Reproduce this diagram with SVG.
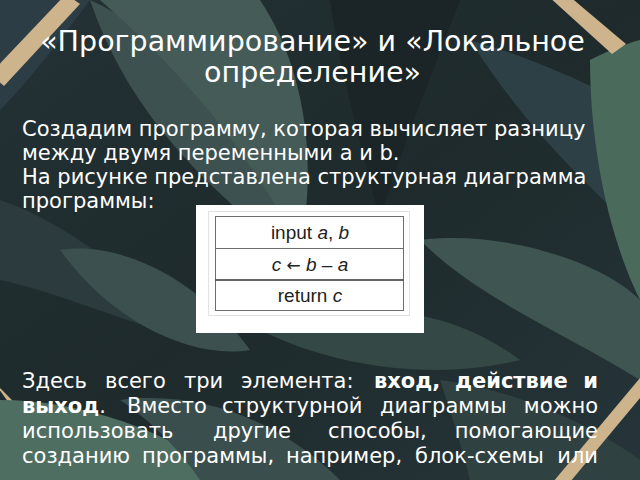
<svg xmlns="http://www.w3.org/2000/svg" width="640" height="480" viewBox="0 0 640 480">
<defs>
<style>
.t{font-family:"DejaVu Sans","Noto Sans",sans-serif;fill:#ffffff}
.title{font-size:28.5px}
.body{font-size:21px}
.b{font-weight:bold}
.tbl{font-family:"Liberation Sans",Arial,sans-serif;font-size:19px;fill:#222}
.i{font-style:italic}
.arr{font-family:"DejaVu Sans",sans-serif;font-size:17px}
.stick{fill:#cdb48c}
</style>
<linearGradient id="bg" x1="0" y1="0" x2="1" y2="1">
<stop offset="0" stop-color="#243236"/>
<stop offset="0.5" stop-color="#1e2a2b"/>
<stop offset="1" stop-color="#26353a"/>
</linearGradient>
</defs>
<g id="background">
<rect x="0" y="0" width="640" height="480" fill="url(#bg)"/>
<path d="M90 0 C180 40 260 140 300 260 C220 200 130 120 90 0 Z" fill="#3c5150"/>
<path d="M100 0 L260 0 C300 60 320 150 300 250 C250 150 180 70 100 0 Z" fill="#455b58"/>
<path d="M0 0 L90 0 C60 40 30 80 0 110 Z" fill="#2c3d45"/>
<path d="M330 0 L460 0 C430 80 400 150 380 220 C360 140 340 70 330 0 Z" fill="#1b2426"/>
<path d="M470 40 C540 60 600 90 640 110 L640 240 C600 190 540 150 470 40 Z" fill="#2d4046"/>
<path d="M590 60 C620 45 640 40 640 40 L640 300 C610 240 590 150 590 60 Z" fill="#4a6a5c"/>
<path d="M0 200 C60 220 130 270 190 340 C120 320 50 290 0 280 Z" fill="#2c3b3e"/>
<path d="M60 250 C120 240 200 280 250 350 C190 360 110 320 60 250 Z" fill="#3b504f"/>
<path d="M260 330 C340 300 440 300 520 360 C440 380 340 370 260 330 Z" fill="#344846"/>
<path d="M420 240 C500 230 600 260 640 300 L640 380 C560 330 480 300 420 240 Z" fill="#3e5552"/>
<path d="M-6 382 L6 394 L66 456 L54 466 Z" class="stick"/>
<path d="M0 400 C80 400 170 430 230 480 L0 480 Z" fill="#4f6e62"/>
<path d="M120 400 C200 390 280 420 340 480 L200 480 C180 450 150 420 120 400 Z" fill="#3a4f4d"/>
<path d="M440 380 C520 390 600 430 640 460 L640 480 L470 480 C460 440 450 410 440 380 Z" fill="#2f4241"/>
<path d="M-10 74 L66 -6 L80 4 L4 86 Z" class="stick"/>
<path d="M548 -4 L562 -10 L626 44 L612 54 Z" class="stick"/>
<path d="M553 482 L640 378 L640 398 L570 482 Z" class="stick"/>
</g>
<g id="title">
<text class="t title" x="312.5" y="51" text-anchor="middle">«Программирование» и «Локальное</text>
<text class="t title" x="312.5" y="82" text-anchor="middle">определение»</text>
</g>
<g id="intro">
<text class="t body" x="22" y="136">Создадим программу, которая вычисляет разницу</text>
<text class="t body" x="22" y="160">между двумя переменными a и b.</text>
<text class="t body" x="22" y="184">На рисунке представлена структурная диаграмма</text>
<text class="t body" x="22" y="208">программы:</text>
</g>
<g id="diagram">
<rect x="196" y="205" width="228" height="128" fill="#ffffff"/>
<rect x="208.5" y="211.5" width="201" height="104" fill="none" stroke="#e2e2e2" stroke-width="1"/>
<rect x="215.5" y="216.5" width="188" height="94" fill="#ffffff" stroke="#6e6e6e" stroke-width="1"/>
<line x1="215.5" y1="248.5" x2="403.5" y2="248.5" stroke="#6e6e6e" stroke-width="1"/>
<line x1="215.5" y1="280" x2="403.5" y2="280" stroke="#333" stroke-width="1.6"/>
<g id="row1"><text class="tbl" x="310" y="239" text-anchor="middle">input <tspan class="i">a</tspan>, <tspan class="i">b</tspan></text></g>
<g id="row2"><text class="tbl" x="310" y="271" text-anchor="middle"><tspan class="i">c</tspan> <tspan class="arr">←</tspan> <tspan class="i">b</tspan> – <tspan class="i">a</tspan></text></g>
<g id="row3"><text class="tbl" x="310" y="302" text-anchor="middle">return <tspan class="i">c</tspan></text></g>
</g>
<g id="summary">
<text class="t body" y="388"><tspan x="22">Здесь</tspan><tspan x="105">всего</tspan><tspan x="184">три</tspan><tspan x="241">элемента:</tspan><tspan x="374" class="b">вход,</tspan><tspan x="455" class="b">действие</tspan><tspan x="598" class="b" text-anchor="end">и</tspan></text>
<text class="t body" y="413"><tspan x="22" class="b">выход</tspan><tspan>.</tspan><tspan x="127">Вместо</tspan><tspan x="222">структурной</tspan><tspan x="380">диаграммы</tspan><tspan x="598" text-anchor="end">можно</tspan></text>
<text class="t body" y="438"><tspan x="22">использовать</tspan><tspan x="213">другие</tspan><tspan x="328">способы,</tspan><tspan x="598" text-anchor="end">помогающие</tspan></text>
<text class="t body" y="463"><tspan x="22">созданию</tspan><tspan x="142">программы,</tspan><tspan x="286">например,</tspan><tspan x="415">блок-схемы</tspan><tspan x="598" text-anchor="end">или</tspan></text>
</g>
</svg>
